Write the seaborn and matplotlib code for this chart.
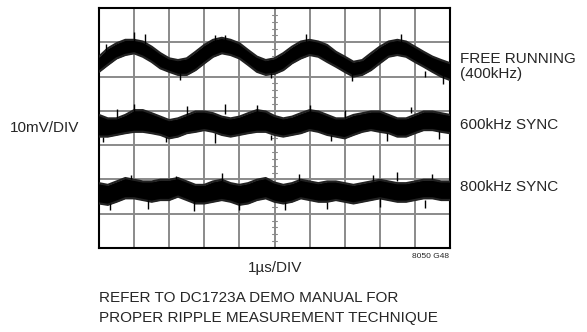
import numpy as np
import pandas as pd
import matplotlib
matplotlib.use("Agg")
import matplotlib.pyplot as plt
import seaborn as sns

# ── Data (mV, 10mV/DIV, 1us/DIV) ───────────────────────────────────────────
TIME_US = np.arange(0, 10.01, 0.25)

FREE_TOP = [20.8, 23.2, 24.7, 25.7, 25.7, 25.2, 23.7, 21.8, 20.3, 19.8, 20.3,
            22.2, 24.2, 25.7, 26.3, 25.7, 24.7, 22.7, 20.8, 19.8, 20.3,
            21.8, 23.7, 25.2, 25.7, 25.2, 24.2, 22.2, 20.8, 19.3, 19.8,
            21.8, 23.7, 25.2, 25.7, 25.2, 23.7, 22.2, 20.8, 19.8, 18.9]
FREE_BOT = [16.4, 18.4, 20.3, 21.3, 21.8, 20.8, 19.3, 17.4, 16.4, 15.5, 15.5,
            16.9, 18.9, 20.8, 21.8, 21.3, 20.3, 18.4, 16.4, 15.5, 15.8,
            16.9, 18.9, 20.3, 21.3, 20.8, 19.3, 17.9, 16.4, 15.0, 15.5,
            16.9, 18.9, 20.8, 21.3, 20.8, 19.3, 17.9, 16.4, 15.0, 14.0]

SYNC600_TOP = [3.8, 2.8, 2.8, 3.8, 5.2, 5.2, 4.3, 3.3, 2.3, 2.8, 3.8,
               4.8, 4.8, 4.3, 3.3, 2.8, 3.3, 4.3, 5.2, 4.8, 3.5,
               2.8, 3.3, 4.3, 5.2, 4.8, 3.8, 2.8, 2.8, 3.8, 4.3,
               4.8, 4.8, 3.8, 2.8, 2.8, 3.8, 4.8, 4.8, 4.3, 3.8]
SYNC600_BOT = [-2.5, -2.5, -2.0, -1.5, -1.1, -1.1, -1.5, -2.0, -3.0, -2.5, -1.5,
               -1.1, -0.6, -1.1, -2.0, -2.5, -2.0, -1.5, -1.1, -1.1, -2.0,
               -2.5, -2.0, -1.5, -0.6, -1.1, -2.0, -2.5, -3.0, -2.0, -1.1,
               -0.6, -1.1, -1.5, -2.5, -2.5, -1.5, -0.6, -0.6, -1.1, -1.5]

SYNC800_TOP = [-16.1, -16.6, -15.6, -14.6, -15.1, -15.6, -15.6, -15.1, -15.1, -14.6, -15.6,
               -16.6, -16.6, -15.6, -15.1, -16.1, -16.6, -16.1, -15.1, -14.6, -15.9,
               -16.6, -16.1, -15.1, -15.6, -16.1, -15.6, -15.6, -16.1, -16.6, -16.1,
               -15.6, -15.1, -15.6, -16.1, -16.1, -15.6, -15.1, -15.1, -15.6, -15.6]
SYNC800_BOT = [-22.0, -22.4, -21.5, -20.5, -20.5, -21.0, -21.5, -21.0, -21.0, -20.0, -21.0,
               -22.0, -22.0, -21.5, -21.0, -21.5, -22.4, -22.0, -21.0, -20.5, -21.5,
               -22.0, -21.5, -20.5, -21.0, -21.5, -21.5, -21.0, -21.5, -22.0, -21.5,
               -21.0, -20.5, -21.0, -21.5, -21.5, -21.0, -20.5, -20.5, -21.0, -21.0]

# noise spikes sticking out of each band: time, base, tip
SPIKE_T = [1.0, 3.6, 9.8, 0.2, 1.3, 2.3, 3.3, 4.9, 5.9, 7.2, 8.6, 9.3,
           1.0, 3.6, 6.0, 1.9, 3.3, 6.6, 8.2, 0.5, 2.5, 4.5, 7.0, 8.9, 0.1, 4.9, 9.7,
           0.9, 2.2, 8.5, 9.5, 0.3, 2.7, 4.0, 6.5, 3.5, 5.7, 7.8, 1.4, 5.3, 8.0, 9.3]
SPIKE_BASE = [25.0, 25.5, 15.5, 21.5, 24.5, 16.0, 24.5, 16.0, 25.0, 16.0, 25.0, 16.5,
              4.5, 4.0, 4.5, -2.5, -1.5, -2.0, -1.5, 2.8, 3.8, 4.5, 3.0, 4.3, -2.5, -2.0, -1.0,
              -15.0, -15.0, -15.5, -15.0, -22.0, -21.0, -22.0, -21.5, -15.5, -15.5, -15.5,
              -21.0, -21.5, -20.5, -21.0]
SPIKE_TIP = [28.1, 27.1, 12.8, 24.5, 27.5, 14.0, 27.0, 14.5, 27.5, 13.8, 27.5, 15.0,
             7.0, 7.0, 6.7, -4.1, -4.4, -3.8, -3.8, 5.5, 6.3, 6.7, 5.3, 6.0, -4.0, -3.5, -3.3,
             -13.7, -14.0, -12.8, -13.4, -23.9, -24.2, -23.9, -23.6, -13.2, -13.5, -13.6,
             -23.6, -23.8, -23.0, -23.2]

LABELS = ["FREE RUNNING\n(400kHz)", "600kHz SYNC", "800kHz SYNC"]
LABEL_Y = [18.0, 0.8, -17.3]

# ── Figure ───────────────────────────────────────────────────────────────────
sns.set_style("white")
plt.rcParams["font.family"] = ["Liberation Sans", "DejaVu Sans"]

fig = plt.figure(figsize=(5.87, 3.32), dpi=100)
ax = fig.add_axes([99 / 587, 1 - 248 / 332, 351 / 587, 240 / 332])
ax.set_xlim(0, 10)
ax.set_ylim(-35, 35)

# graticule
for gx in range(1, 10):
    ax.axvline(gx, color="#8a8a8a", lw=1.4, zorder=1)
for gy in np.arange(-25, 35, 10):
    ax.axhline(gy, color="#8a8a8a", lw=1.4, zorder=1)
for ty in np.arange(-35, 35.1, 2):
    ax.plot([4.94, 5.06], [ty, ty], color="#8a8a8a", lw=0.8, zorder=1)

traces = [(FREE_TOP, FREE_BOT), (SYNC600_TOP, SYNC600_BOT), (SYNC800_TOP, SYNC800_BOT)]
for top, bot in traces:
    ax.fill_between(TIME_US, bot, top, color="black", lw=0, zorder=3)
    df = pd.DataFrame({"t": np.concatenate([TIME_US, TIME_US]),
                       "v": top + bot,
                       "edge": ["top"] * len(TIME_US) + ["bot"] * len(TIME_US)})
    sns.lineplot(data=df, x="t", y="v", units="edge", estimator=None,
                 color="#222222", lw=1.6, ax=ax, zorder=3)

ax.vlines(SPIKE_T, SPIKE_BASE, SPIKE_TIP, color="black", lw=1.0, zorder=4)

ax.set_xticks([])
ax.set_yticks([])
ax.set_xlabel("")
ax.set_ylabel("")
for sp in ax.spines.values():
    sp.set_visible(True)
    sp.set_color("black")
    sp.set_linewidth(1.5)

# labels
for lab, ly in zip(LABELS, LABEL_Y):
    ax.text(10.28, ly, lab, ha="left", va="center", fontsize=11,
            linespacing=1.1, transform=ax.transData, clip_on=False)

fig.text(10 / 587, 1 - 128 / 332, "10mV/DIV", ha="left", va="center", fontsize=11)
fig.text(275 / 587, 1 - 268 / 332, "1\u00b5s/DIV", ha="center", va="center", fontsize=11)
fig.text(449 / 587, 1 - 256 / 332, "8050 G48", ha="right", va="center", fontsize=6)
fig.text(99 / 587, 1 - 298 / 332, "REFER TO DC1723A DEMO MANUAL FOR",
         ha="left", va="center", fontsize=11)
fig.text(99 / 587, 1 - 318 / 332, "PROPER RIPPLE MEASUREMENT TECHNIQUE",
         ha="left", va="center", fontsize=11)

fig.savefig("out.png", dpi=100)
